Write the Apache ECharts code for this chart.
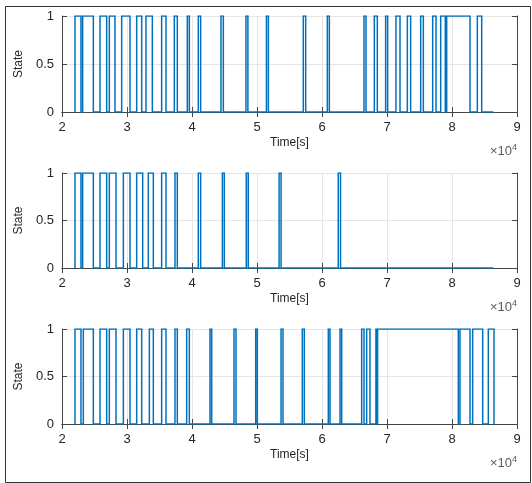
<!DOCTYPE html>
<html>
<head>
<meta charset="utf-8">
<script src="https://cdn.jsdelivr.net/npm/echarts@6/dist/echarts.min.js"></script>
<style>
  html, body { margin: 0; padding: 0; background: #fff; }
  #chart { width: 532px; height: 483px; }
</style>
</head>
<body>
<div id="chart"></div>
<script>
  // record span (s)
  const tStart = 22000;
  const tEnd = [86360, 86360, 86460];

  // intervals where State = 1, [rise, fall] in seconds
  const high1 = [
    [22000, 22920], [23180, 24820], [25850, 26870], [27280, 28150], [29180, 30460],
    [31490, 32260], [32920, 33900], [35330, 36000], [37280, 37740], [39280, 39590],
    [40970, 41330], [44460, 44820], [48300, 48600], [51450, 51750], [57120, 57490],
    [60820, 61130], [66460, 66770], [68050, 68510], [69790, 70100], [71380, 72000],
    [73130, 73640], [75180, 75590], [77030, 77540], [78260, 78970], [79180, 82770],
    [83900, 84570]
  ];
  const high2 = [
    [22000, 22920], [23180, 24820], [25850, 26870], [27280, 28310], [29440, 30460],
    [31490, 32410], [33280, 34050], [35330, 36000], [37380, 37740], [40970, 41330],
    [44670, 44970], [48350, 48650], [53400, 53700], [62500, 62850]
  ];
  const high3 = [
    [22000, 22920], [23280, 24820], [25850, 26870], [27280, 28310], [29440, 30460],
    [31490, 32260], [33440, 34050], [35330, 36000], [37380, 37740], [39180, 39590],
    [42770, 43030], [46460, 46770], [49800, 50050], [53700, 54000], [56970, 57280],
    [60970, 61230], [62770, 63030], [66100, 66460], [66870, 67380], [68300, 68400],
    [68550, 80970], [81230, 82770], [83180, 84720], [85590, 86460]
  ];

  const xTicks = [2, 3, 4, 5, 6, 7, 8, 9];   // x 10^4
  const yTicks = [0, 0.5, 1];

  function steps(highs, end) {
    let pts = [[tStart, 0]];
    for (let [a, b] of highs) {
      pts.push([a, 0], [a, 1], [b, 1], [b, 0]);
    }
    pts.push([end, 0]);
    return pts;
  }

  const font = 'Liberation Sans, Arial, Helvetica, sans-serif';
  const axisColor = '#454545';
  const gridTops = [16, 173, 329];
  const gridH = [96, 95, 95];

  let grids = [], xAxes = [], yAxes = [], series = [], graphics = [];
  const highs = [high1, high2, high3];

  gridTops.forEach((top, i) => {
    grids.push({ left: 62, width: 455, top: top, height: gridH[i], show: false });
    let xBase = {
      type: 'value', gridIndex: i,
      min: xTicks[0] * 1e4, max: xTicks[xTicks.length - 1] * 1e4, interval: 1e4,
      axisLine: { show: true, lineStyle: { color: axisColor, width: 1 } },
      axisTick: { show: true, inside: true, length: 5, lineStyle: { color: axisColor } }
    };
    xAxes.push(Object.assign({}, xBase, {
      position: 'bottom',
      axisLabel: { formatter: v => String(v / 1e4), fontSize: 13, color: '#262626', fontFamily: font, margin: 9 },
      splitLine: { show: true, lineStyle: { color: '#e6e6e6', width: 1 } },
      name: 'Time[s]', nameLocation: 'middle', nameGap: 25,
      nameTextStyle: { fontSize: 12, color: '#262626', fontFamily: font }
    }));
    xAxes.push(Object.assign({}, xBase, {
      position: 'top',
      axisLabel: { show: false },
      splitLine: { show: false }
    }));
    let yBase = {
      type: 'value', gridIndex: i, min: yTicks[0], max: yTicks[yTicks.length - 1], interval: 0.5,
      axisLine: { show: true, lineStyle: { color: axisColor, width: 1 } },
      axisTick: { show: true, inside: true, length: 5, lineStyle: { color: axisColor } }
    };
    yAxes.push(Object.assign({}, yBase, {
      position: 'left',
      axisLabel: { fontSize: 13, color: '#262626', fontFamily: font, margin: 8 },
      splitLine: { show: true, lineStyle: { color: '#e6e6e6', width: 1 } },
      name: 'State', nameLocation: 'middle', nameGap: 27,
      nameTextStyle: { fontSize: 12, color: '#262626', fontFamily: font }
    }));
    yAxes.push(Object.assign({}, yBase, {
      position: 'right',
      axisLabel: { show: false },
      splitLine: { show: false }
    }));
    // step signal drawn as one polyline in the cartesian grid
    series.push({
      type: 'lines', coordinateSystem: 'cartesian2d',
      xAxisIndex: i * 2, yAxisIndex: i * 2,
      polyline: true,
      data: [{ coords: steps(highs[i], tEnd[i]) }],
      lineStyle: { color: '#0072BD', width: 1.5, opacity: 1 },
      z: 3
    });
    // exponent label  x10^4
    graphics.push({
      type: 'text', right: 15, top: top + gridH[i] + 31,
      style: {
        text: '{a|×10}{b|4}',
        rich: {
          a: { fontSize: 13, fill: '#5a5a5a', fontFamily: font },
          b: { fontSize: 9, fill: '#5a5a5a', fontFamily: font, verticalAlign: 'top', padding: [0, 0, 8, 0] }
        }
      }
    });
  });

  // figure frame
  graphics.push({
    type: 'rect', left: 3, top: 4,
    shape: { width: 525, height: 476 },
    style: { fill: 'none', stroke: '#333', lineWidth: 1 },
    silent: true
  });

  let myChart = echarts.init(document.getElementById('chart'), null, { renderer: 'canvas' });
  myChart.setOption({
    animation: false,
    backgroundColor: '#fff',
    grid: grids,
    xAxis: xAxes,
    yAxis: yAxes,
    series: series,
    graphic: graphics
  });
</script>
</body>
</html>
